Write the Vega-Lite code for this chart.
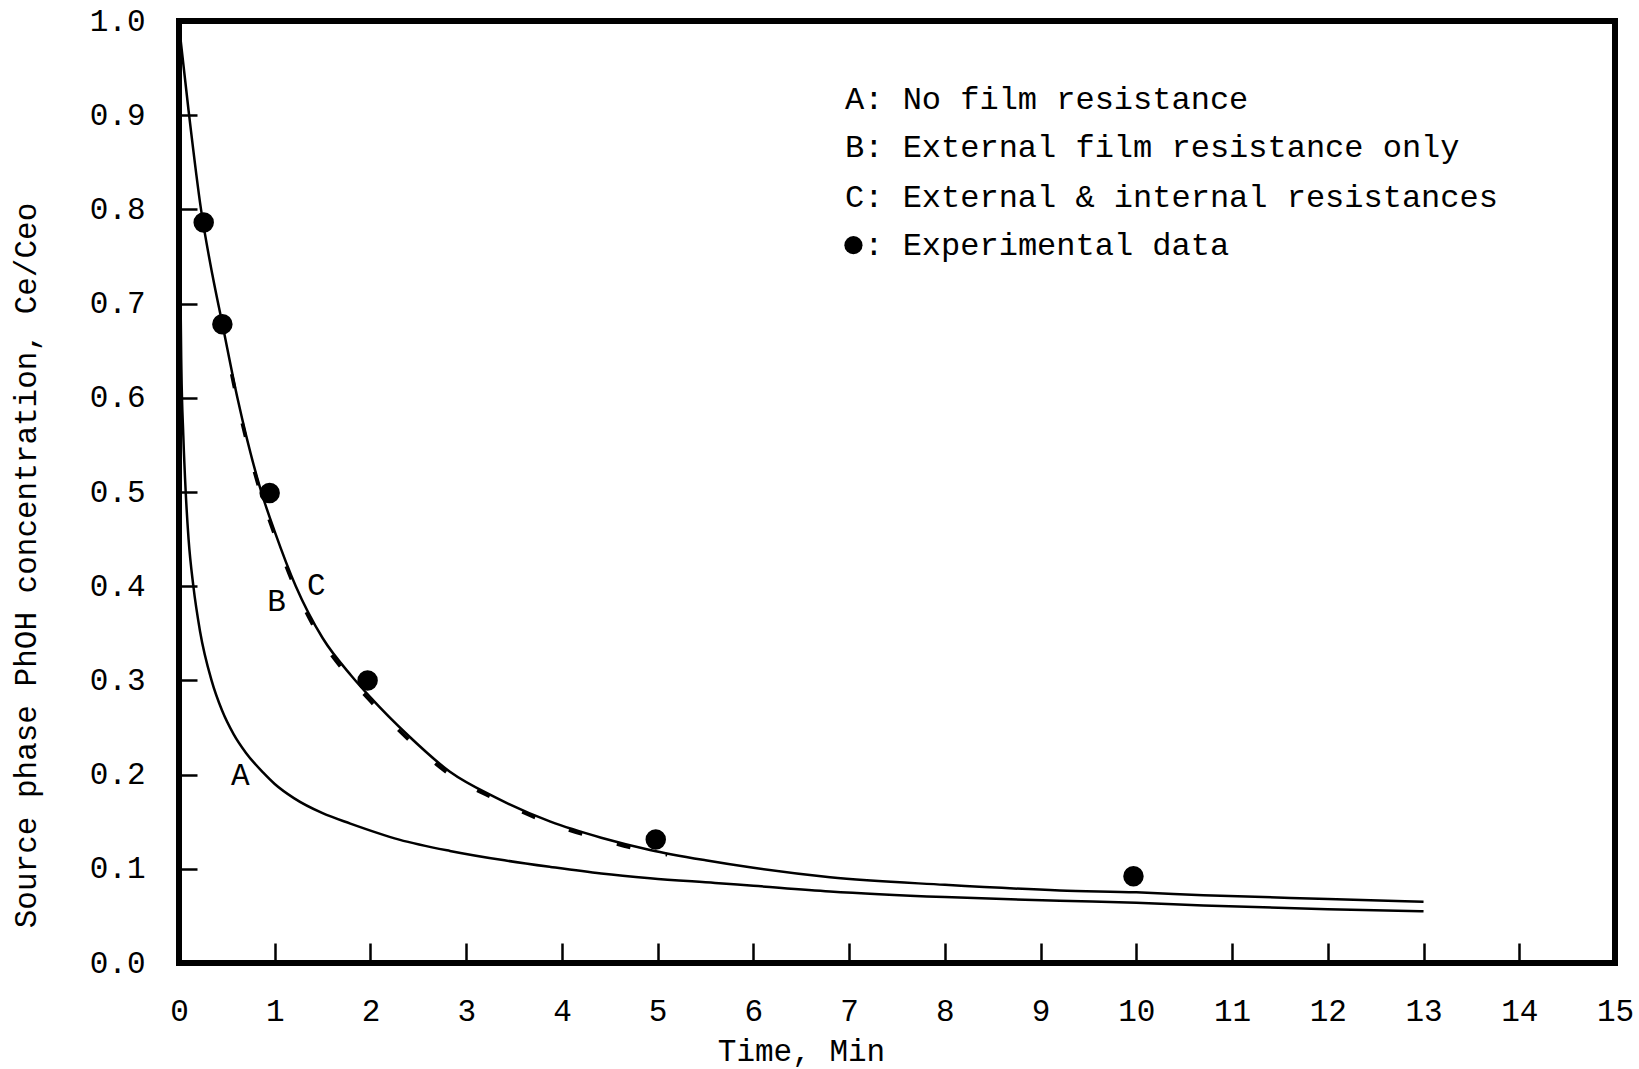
{
  "$schema": "https://vega.github.io/schema/vega-lite/v6.json",
  "width": 1436,
  "height": 942,
  "autosize": {"type": "none"},
  "padding": {"left": 179, "top": 21, "right": 24, "bottom": 106},
  "background": "white",
  "config": {
    "view": {"stroke": "black", "strokeWidth": 6},
    "font": "Liberation Mono",
    "text": {"font": "Liberation Mono", "color": "black"}
  },
  "datasets": {
    "curves": [
      {"curve": "A", "t": 0, "c": 1.0},
      {"curve": "A", "t": 0.005, "c": 0.86},
      {"curve": "A", "t": 0.012, "c": 0.74},
      {"curve": "A", "t": 0.025, "c": 0.63},
      {"curve": "A", "t": 0.045, "c": 0.56},
      {"curve": "A", "t": 0.07, "c": 0.5},
      {"curve": "A", "t": 0.1, "c": 0.45},
      {"curve": "A", "t": 0.15, "c": 0.4},
      {"curve": "A", "t": 0.22, "c": 0.352},
      {"curve": "A", "t": 0.34, "c": 0.3},
      {"curve": "A", "t": 0.45, "c": 0.268},
      {"curve": "A", "t": 0.57, "c": 0.243},
      {"curve": "A", "t": 0.7, "c": 0.223},
      {"curve": "A", "t": 0.88, "c": 0.202},
      {"curve": "A", "t": 1.0, "c": 0.19},
      {"curve": "A", "t": 1.2, "c": 0.175},
      {"curve": "A", "t": 1.5, "c": 0.159},
      {"curve": "A", "t": 1.79, "c": 0.148},
      {"curve": "A", "t": 2.3, "c": 0.131},
      {"curve": "A", "t": 2.83, "c": 0.119},
      {"curve": "A", "t": 3.4, "c": 0.109},
      {"curve": "A", "t": 3.88, "c": 0.102},
      {"curve": "A", "t": 4.41, "c": 0.095},
      {"curve": "A", "t": 4.92, "c": 0.09},
      {"curve": "A", "t": 5.6, "c": 0.085},
      {"curve": "A", "t": 6.0, "c": 0.082},
      {"curve": "A", "t": 6.8, "c": 0.076},
      {"curve": "A", "t": 8.0, "c": 0.07},
      {"curve": "A", "t": 9.2, "c": 0.066},
      {"curve": "A", "t": 10.0, "c": 0.064},
      {"curve": "A", "t": 10.7, "c": 0.061},
      {"curve": "A", "t": 12.0, "c": 0.057},
      {"curve": "A", "t": 13.0, "c": 0.055},
      {"curve": "C", "t": 0, "c": 0.995},
      {"curve": "C", "t": 0.1, "c": 0.905},
      {"curve": "C", "t": 0.23, "c": 0.8},
      {"curve": "C", "t": 0.35, "c": 0.73},
      {"curve": "C", "t": 0.45, "c": 0.68},
      {"curve": "C", "t": 0.61, "c": 0.6},
      {"curve": "C", "t": 0.86, "c": 0.5},
      {"curve": "C", "t": 1.0, "c": 0.458},
      {"curve": "C", "t": 1.22, "c": 0.4},
      {"curve": "C", "t": 1.5, "c": 0.345},
      {"curve": "C", "t": 1.8, "c": 0.305},
      {"curve": "C", "t": 2.0, "c": 0.282},
      {"curve": "C", "t": 2.4, "c": 0.241},
      {"curve": "C", "t": 2.83, "c": 0.203},
      {"curve": "C", "t": 3.3, "c": 0.176},
      {"curve": "C", "t": 3.88, "c": 0.15},
      {"curve": "C", "t": 4.41, "c": 0.133},
      {"curve": "C", "t": 4.92, "c": 0.12},
      {"curve": "C", "t": 5.5, "c": 0.109},
      {"curve": "C", "t": 6.0, "c": 0.101},
      {"curve": "C", "t": 6.8, "c": 0.091},
      {"curve": "C", "t": 8.0, "c": 0.083},
      {"curve": "C", "t": 9.2, "c": 0.077},
      {"curve": "C", "t": 10.0, "c": 0.075},
      {"curve": "C", "t": 10.7, "c": 0.072},
      {"curve": "C", "t": 12.0, "c": 0.068},
      {"curve": "C", "t": 13.0, "c": 0.065}
    ],
    "curveB": [
      {"curve": "B", "t": 0.55, "c": 0.625},
      {"curve": "B", "t": 0.61, "c": 0.596},
      {"curve": "B", "t": 0.86, "c": 0.496},
      {"curve": "B", "t": 1.0, "c": 0.454},
      {"curve": "B", "t": 1.22, "c": 0.396},
      {"curve": "B", "t": 1.5, "c": 0.341},
      {"curve": "B", "t": 1.8, "c": 0.301},
      {"curve": "B", "t": 2.0, "c": 0.278},
      {"curve": "B", "t": 2.4, "c": 0.237},
      {"curve": "B", "t": 2.83, "c": 0.2},
      {"curve": "B", "t": 3.3, "c": 0.174},
      {"curve": "B", "t": 3.88, "c": 0.148},
      {"curve": "B", "t": 4.41, "c": 0.131},
      {"curve": "B", "t": 4.92, "c": 0.118},
      {"curve": "B", "t": 5.1, "c": 0.115}
    ],
    "points": [
      {"t": 0.258, "c": 0.786},
      {"t": 0.453, "c": 0.678},
      {"t": 0.947, "c": 0.499},
      {"t": 1.97, "c": 0.3},
      {"t": 4.98, "c": 0.131},
      {"t": 9.97, "c": 0.092}
    ],
    "curveLabels": [
      {"t": 0.64, "c": 0.199, "label": "A"},
      {"t": 1.02, "c": 0.383, "label": "B"},
      {"t": 1.435, "c": 0.4, "label": "C"}
    ],
    "legend": [
      {"t": 6.957, "c": 0.917, "label": "A: No film resistance"},
      {"t": 6.957, "c": 0.866, "label": "B: External film resistance only"},
      {"t": 6.957, "c": 0.813, "label": "C: External & internal resistances"},
      {"t": 7.158, "c": 0.762, "label": ": Experimental data"}
    ],
    "legendDot": [
      {"t": 7.045, "c": 0.762}
    ]
  },
  "layer": [
    {
      "data": {"name": "curves"},
      "mark": {"type": "line", "color": "black", "strokeWidth": 2.5, "interpolate": "monotone"},
      "encoding": {
        "x": {
          "field": "t", "type": "quantitative",
          "scale": {"domain": [0, 15], "nice": false, "zero": false},
          "axis": {
            "values": [0,1,2,3,4,5,6,7,8,9,10,11,12,13,14,15],
            "format": "d",
            "grid": false, "domain": false,
            "tickSize": -20, "tickWidth": 2.5, "tickColor": "black",
            "labelFont": "Liberation Mono", "labelFontSize": 31, "labelColor": "black",
            "labelPadding": 53, "labelFlush": false, "labelBaseline": "top",
            "title": "Time, Min", "titleFont": "Liberation Mono", "titleFontSize": 31,
            "titleFontWeight": "normal", "titleColor": "black",
            "titleX": 622, "titleY": 88, "titleAlign": "center", "titleBaseline": "middle", "titleAnchor": null
          }
        },
        "y": {
          "field": "c", "type": "quantitative",
          "scale": {"domain": [0, 1], "nice": false},
          "axis": {
            "values": [0,0.1,0.2,0.3,0.4,0.5,0.6,0.7,0.8,0.9,1.0],
            "format": ".1f",
            "grid": false, "domain": false,
            "tickSize": -18, "tickWidth": 2.5, "tickColor": "black",
            "labelFont": "Liberation Mono", "labelFontSize": 31, "labelColor": "black",
            "labelPadding": 52, "labelFlush": false,
            "title": "Source phase PhOH concentration, Ce/Ceo", "titleFont": "Liberation Mono",
            "titleFontSize": 31, "titleFontWeight": "normal", "titleColor": "black",
            "titleX": -153, "titleY": 544, "titleAlign": "center", "titleBaseline": "middle", "titleAngle": 270
          }
        },
        "detail": {"field": "curve"}
      }
    },
    {
      "data": {"name": "curveB"},
      "mark": {"type": "line", "color": "black", "strokeWidth": 3.5, "strokeDash": [14, 36], "interpolate": "monotone"},
      "encoding": {
        "x": {"field": "t", "type": "quantitative"},
        "y": {"field": "c", "type": "quantitative"}
      }
    },
    {
      "data": {"name": "points"},
      "mark": {"type": "point", "filled": true, "color": "black", "opacity": 1, "size": 420},
      "encoding": {
        "x": {"field": "t", "type": "quantitative"},
        "y": {"field": "c", "type": "quantitative"}
      }
    },
    {
      "data": {"name": "curveLabels"},
      "mark": {"type": "text", "fontSize": 31, "align": "center", "baseline": "middle", "font": "Liberation Mono"},
      "encoding": {
        "x": {"field": "t", "type": "quantitative"},
        "y": {"field": "c", "type": "quantitative"},
        "text": {"field": "label"}
      }
    },
    {
      "data": {"name": "legend"},
      "mark": {"type": "text", "fontSize": 32, "align": "left", "baseline": "middle", "font": "Liberation Mono"},
      "encoding": {
        "x": {"field": "t", "type": "quantitative"},
        "y": {"field": "c", "type": "quantitative"},
        "text": {"field": "label"}
      }
    },
    {
      "data": {"name": "legendDot"},
      "mark": {"type": "point", "filled": true, "color": "black", "opacity": 1, "size": 330},
      "encoding": {
        "x": {"field": "t", "type": "quantitative"},
        "y": {"field": "c", "type": "quantitative"}
      }
    }
  ]
}
